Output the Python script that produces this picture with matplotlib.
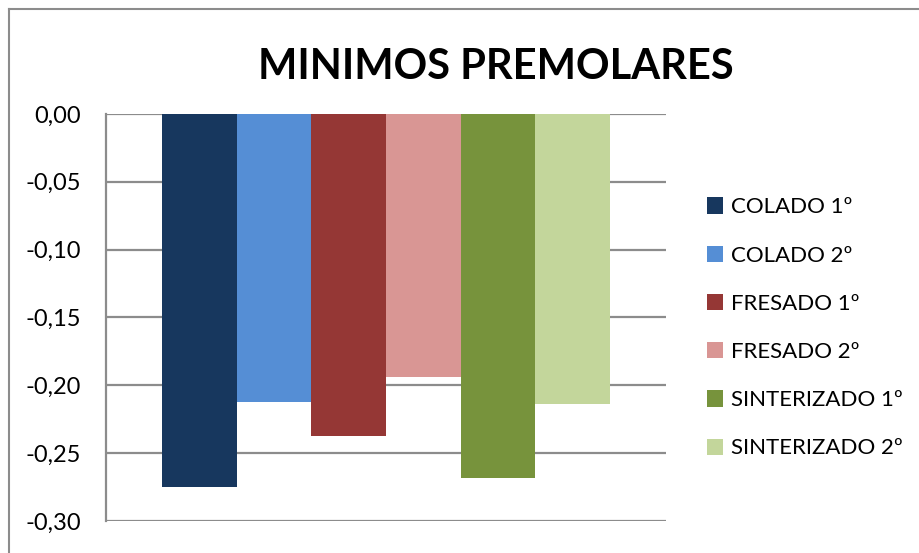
import matplotlib.pyplot as plt
from matplotlib.lines import Line2D
from matplotlib import font_manager

names = {f.name for f in font_manager.fontManager.ttflist}
base_font = 'Lato' if 'Lato' in names else 'DejaVu Sans'
plt.rcParams['font.family'] = [base_font, 'DejaVu Sans']

labels = ['COLADO 1º', 'COLADO 2º', 'FRESADO 1º', 'FRESADO 2º',
          'SINTERIZADO 1º', 'SINTERIZADO 2º']
values = [-0.275, -0.212, -0.237, -0.194, -0.268, -0.214]
colors = ['#17375E', '#558ED5', '#953735', '#D99694', '#77933C', '#C3D69B']
yticks = [0.0, -0.05, -0.10, -0.15, -0.20, -0.25, -0.30]

fig = plt.figure(figsize=(9.2, 5.53), dpi=100)
ax = fig.add_axes([0.1152, 0.0579, 0.6087, 0.736])

bars = ax.bar(range(len(values)), values, width=1.0, color=colors,
              label=labels, zorder=3)

ax.set_xlim(-1.25, 6.25)
ax.set_ylim(-0.30, 0.0)
ax.set_yticks(yticks)
ax.set_yticklabels(['{:.2f}'.format(v).replace('.', ',') if v != 0 else '0,00'
                    for v in yticks], fontsize=17)
ax.set_xticks([])
ax.tick_params(axis='y', length=0, pad=18)
ax.grid(axis='y', color='#8c8c8c', linewidth=1.6, zorder=0)
for s in ['top', 'right', 'bottom']:
    ax.spines[s].set_visible(False)
ax.spines['left'].set_color('#8c8c8c')
ax.spines['left'].set_linewidth(1.6)

fig.text(0.539, 0.878, 'MINIMOS PREMOLARES', ha='center', va='center',
         fontsize=30, fontweight='bold')

leg = fig.legend(handles=bars, labels=labels, loc='center left',
                 bbox_to_anchor=(0.768, 0.407), frameon=False, fontsize=16,
                 handlelength=0.75, handleheight=0.75, handletextpad=0.35,
                 labelspacing=1.27, borderpad=0, borderaxespad=0)

# outer chart border (top and left only visible)
fig.add_artist(Line2D([0.0098, 0.0098], [0, 0.984], color='#8c8c8c', lw=1.5))
fig.add_artist(Line2D([0.0098, 1], [0.984, 0.984], color='#8c8c8c', lw=1.5))

fig.savefig('out.png', dpi=100)
